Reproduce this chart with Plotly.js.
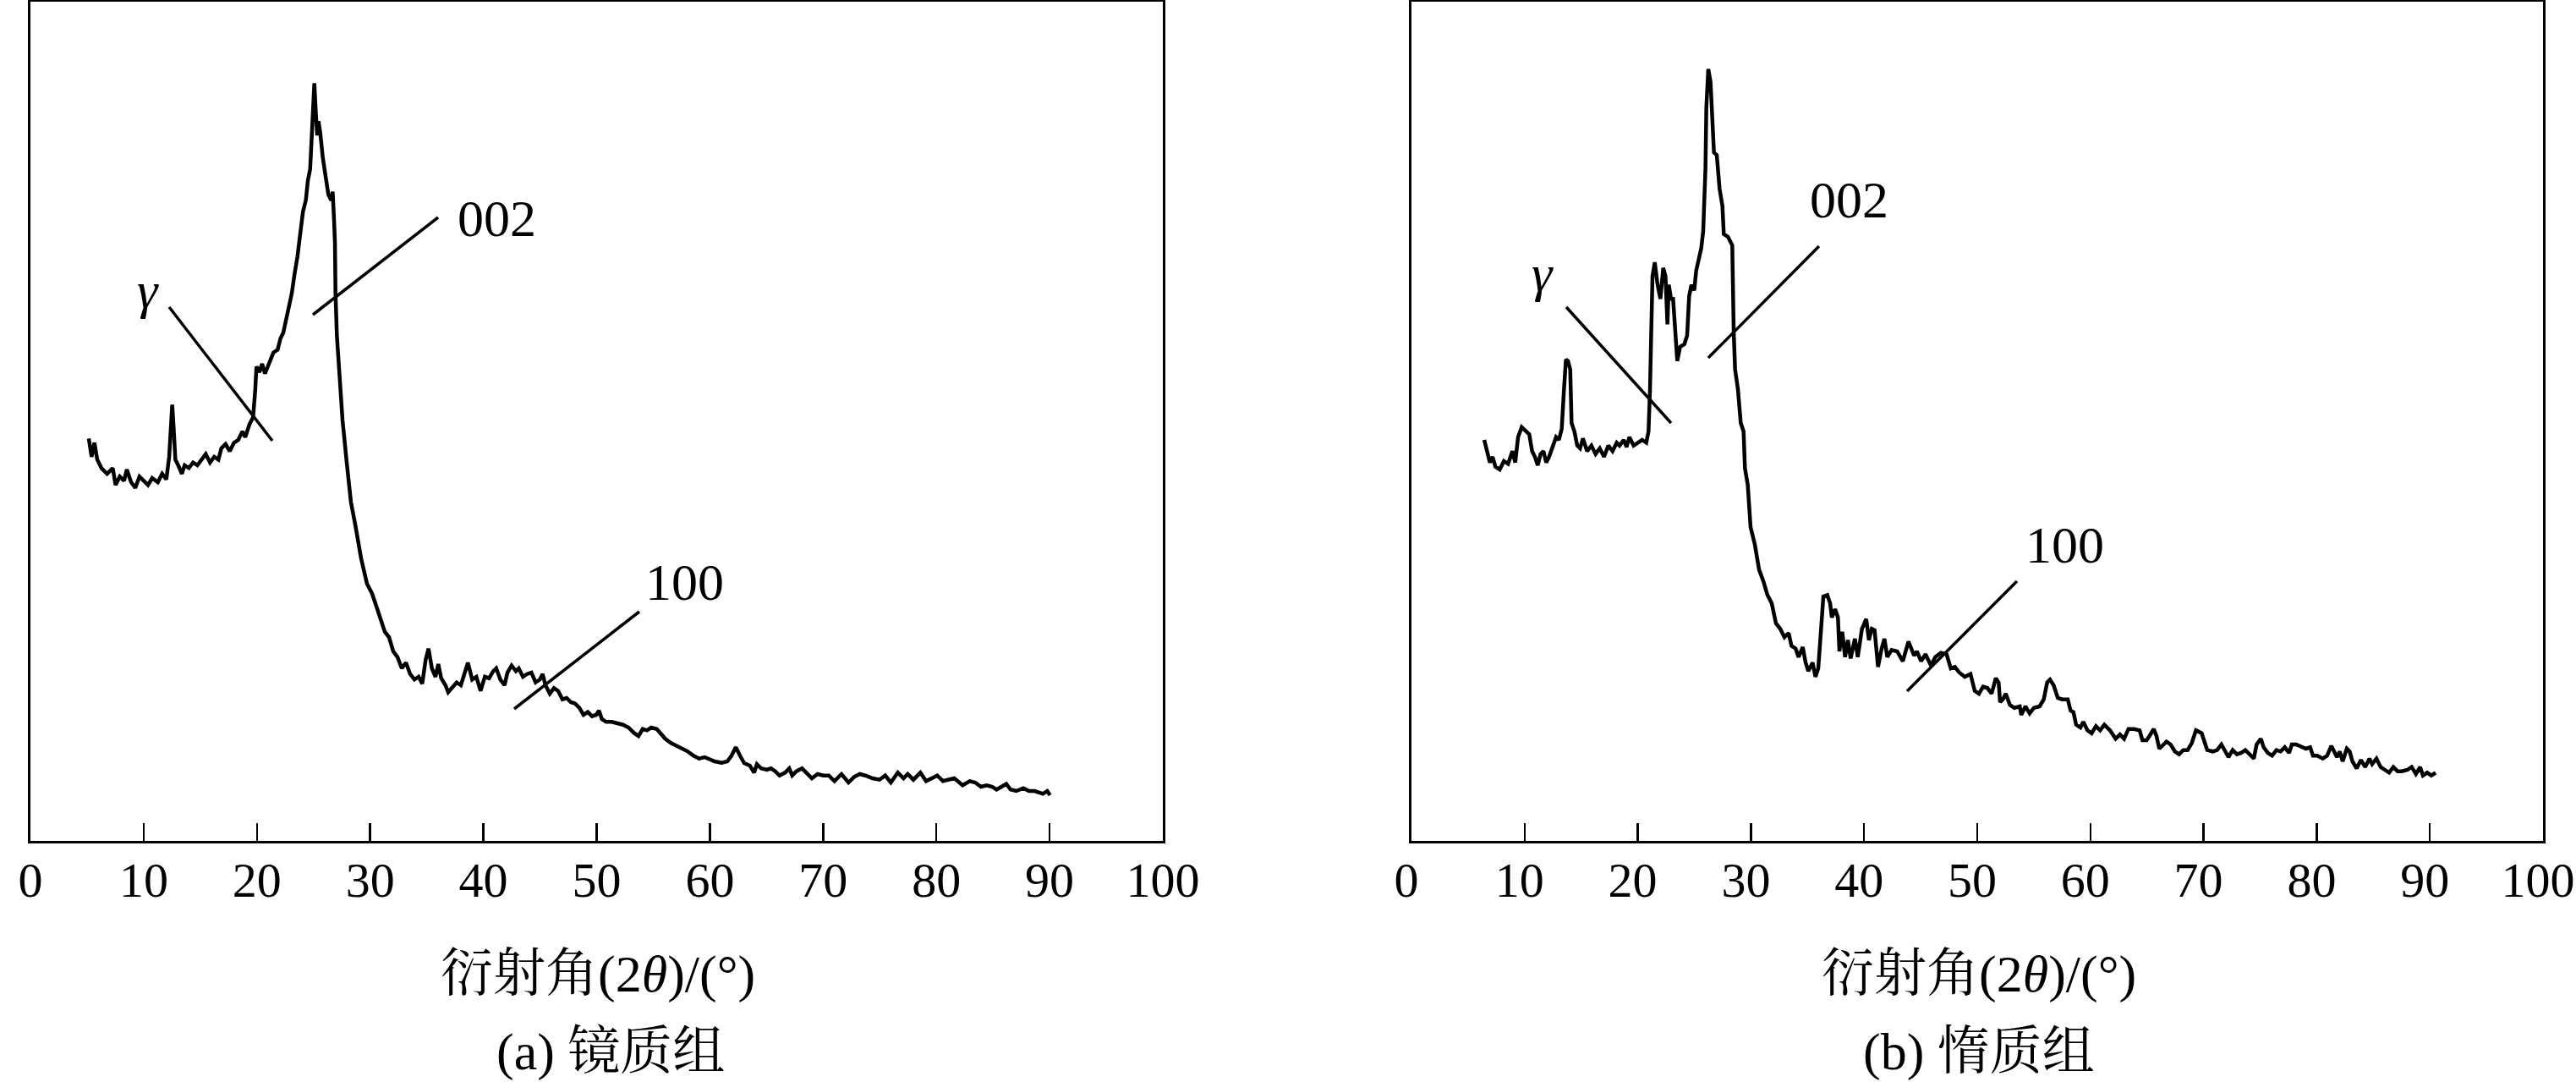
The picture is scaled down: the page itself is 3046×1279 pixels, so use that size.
<!DOCTYPE html>
<html>
<head>
<meta charset="utf-8">
<script src="https://cdn.plot.ly/plotly-3.0.1.min.js"></script>
<style>
  html, body { margin: 0; padding: 0; background: #fff; }
  #chart { width: 3046px; height: 1279px; }
</style>
</head>
<body>
<div id="chart"></div>
<script>
// ---- Data (2θ in degrees, intensity in arbitrary units) ----
const vitriniteAngle = [5.15,5.40,5.65,5.90,6.27,6.77,7.27,7.52,7.89,8.27,8.51,8.89,9.26,9.63,10.01,10.38,10.75,11.25,11.63,12.00,12.25,12.40,12.52,12.65,12.80,13.05,13.37,13.62,13.99,14.36,14.74,15.11,15.48,15.86,16.23,16.60,16.86,17.23,17.60,17.98,18.35,18.72,18.97,19.34,19.66,19.84,19.96,20.22,20.46,20.71,21.08,21.46,21.83,22.08,22.33,22.58,22.83,23.08,23.33,23.58,23.82,24.07,24.32,24.50,24.70,24.82,24.94,25.07,25.19,25.32,25.44,25.59,25.82,26.06,26.31,26.56,26.69,26.81,26.89,26.94,27.06,27.31,27.56,27.93,28.30,28.68,29.20,29.72,30.17,30.55,30.92,31.29,31.67,32.04,32.41,32.79,33.16,33.53,33.91,34.28,34.60,34.90,35.15,35.45,35.77,36.02,36.27,36.65,36.89,37.27,37.64,38.01,38.39,38.63,39.01,39.38,39.75,40.13,40.50,40.87,41.13,41.50,41.87,42.12,42.49,42.87,43.12,43.49,43.86,44.24,44.61,44.98,45.23,45.48,45.86,46.23,46.60,46.98,47.35,47.72,48.10,48.47,48.84,49.22,49.59,49.96,50.21,50.46,50.84,51.33,51.83,52.33,52.82,53.32,53.70,54.07,54.44,54.82,55.31,55.69,56.06,56.56,57.06,57.56,58.05,58.55,59.05,59.54,60.04,60.42,61.04,61.54,61.91,62.29,62.66,63.03,63.53,63.91,64.15,64.53,65.03,65.40,65.77,66.15,66.64,67.01,67.27,67.64,68.14,68.51,69.01,69.51,70.00,70.50,71.00,71.62,72.24,72.74,73.24,73.73,74.36,74.98,75.48,75.98,76.60,77.10,77.47,77.97,78.59,79.09,79.59,80.08,80.58,81.08,81.58,82.32,82.95,83.44,83.94,84.44,84.94,85.31,85.81,86.18,86.55,87.06,87.68,88.18,88.67,89.04,89.42,89.79,90.04];
const vitriniteIntensity = [475.7,454,470.7,450.7,440.7,434,440.7,420.7,430.7,425.7,439,424,417.3,430.7,425.7,420.7,429,424,434,427.3,454,497.3,515.7,487.3,450.7,444,434,444,440.7,447.3,444,450.7,457.3,447.3,454,450.7,464,469,460.7,470.7,474,484,477.3,492.3,500.7,530.7,560.7,554,564,552.3,564,577.3,580.7,594,600.7,617.3,630.7,647.3,670.7,690.7,717.3,744,757.3,780.7,794,830.7,874,895.7,864,834,850.7,837.3,807.3,787.3,764,757.3,767.3,734,707.3,647.3,597.3,547.3,497.3,447.3,400.7,374,334,304,292.3,277.3,260.7,247.3,240.7,224,217.3,204,210.7,197.3,190.7,194,185.7,214,227.3,204,194,209,192.3,184,175.7,182.3,187.3,184,200.7,210.7,190.7,194,177.3,194,192.3,200.7,204,190.7,184,199,207.3,200.7,204,194,197.3,199,187.3,190.7,197.3,184,174,180.7,177.3,167.3,169,164,162.3,157.3,149,152.3,147.3,149,154,144,140.7,140.7,139,137.3,134,127.3,124,132.3,130.7,134,132.3,125.7,120.7,115.7,112.3,109,105.7,100.7,97.3,99,95.7,94,92.3,94,100.7,110.7,100.7,92,89,80.7,90.7,85.7,84,85.7,82.3,77.3,80.7,85.7,77.3,82.3,85.7,80.7,74,79,77.3,77.3,70.7,79,69,75.7,79,77.3,74,72.3,77.3,69,80.7,74,79,72.3,80.7,70.7,74,77.3,70.7,72.3,74,65.7,70.7,69,64,65.7,64,60.7,64,67.3,60.7,59,62.3,59,59,57.3,55.7,59,54];

const inertiniteAngle = [6.43,6.68,6.93,7.17,7.42,7.80,8.17,8.54,8.92,9.17,9.42,9.74,10.04,10.41,10.66,10.91,11.16,11.41,11.66,11.91,12.16,12.53,12.78,13.03,13.28,13.48,13.65,13.83,14.03,14.15,14.40,14.65,14.90,15.15,15.52,15.90,16.27,16.64,17.02,17.39,17.77,18.14,18.39,18.76,19.01,19.26,19.63,20.01,20.38,20.75,20.95,21.08,21.20,21.30,21.50,21.75,22.00,22.25,22.45,22.62,22.74,22.94,23.12,23.29,23.49,23.74,24.12,24.36,24.54,24.74,24.99,25.16,25.36,25.61,25.78,25.98,26.06,26.23,26.43,26.61,26.73,26.98,27.23,27.48,27.60,27.97,28.35,28.48,28.60,28.85,29.10,29.35,29.47,29.72,29.97,30.34,30.72,31.09,31.46,31.84,32.21,32.59,32.96,33.33,33.58,33.95,34.21,34.58,34.83,35.07,35.45,35.70,35.95,36.20,36.40,36.75,37.00,37.15,37.44,37.69,37.82,38.07,38.32,38.57,38.81,39.19,39.44,39.81,40.19,40.43,40.68,40.93,41.23,41.55,41.80,42.05,42.43,42.92,43.42,43.92,44.17,44.42,44.67,45.04,45.42,45.91,46.29,46.79,47.29,47.66,48.03,48.41,48.90,49.40,49.78,50.15,50.52,50.90,51.27,51.64,51.89,52.02,52.27,52.52,52.89,53.27,53.76,53.89,54.26,54.63,55.01,55.51,55.88,56.18,56.43,56.75,57.12,57.50,58.00,58.25,58.50,58.74,59.12,59.37,59.74,60.11,60.49,60.86,61.23,61.73,62.23,62.61,62.98,63.36,63.85,64.35,64.60,64.97,65.22,65.60,65.84,66.09,66.47,66.72,67.09,67.47,67.84,68.21,68.59,68.96,69.33,69.83,70.08,70.33,70.83,71.20,71.58,71.95,72.20,72.57,72.95,73.32,73.69,74.07,74.44,74.69,75.06,75.31,75.69,76.06,76.44,76.81,77.18,77.56,77.80,78.18,78.55,79.05,79.42,79.67,80.04,80.54,80.92,81.29,81.54,81.79,82.04,82.29,82.66,82.91,83.16,83.53,83.91,84.28,84.66,84.90,85.28,85.65,86.02,86.40,86.77,87.14,87.52,88.02,88.39,88.77,89.14,89.39,89.76,90.13,90.51];
const inertiniteIntensity = [474,460.7,447.3,454,442.3,439,449,445.7,460.7,447.3,477.3,489,485.7,480.7,460.7,454,444,457.3,460.7,447.3,454,467.3,477.3,474,487.3,534,569,567.3,557.3,494,484,467.3,464,475.7,460.7,467.3,457.3,464,454,467.3,460.7,470.7,467.3,474,465.7,477.3,467.3,470.7,474,470.7,484,534,600.7,667.3,684,657.3,640.7,677.3,667.3,610.7,657.3,640.7,640.7,600.7,567.3,584,587.3,597.3,644,657.3,650.7,674,687.3,700.7,720.7,794,867.3,912.3,897.3,834,814,810.7,770.7,750.7,717.3,714,704,600.7,557.3,534,494,484,440.7,420.7,370.7,350.7,320.7,307.3,290.7,280.7,257.3,250.7,240.7,245.7,230.7,227.3,217.3,229,210.7,200.7,210.7,194,204,250.7,289,290.7,280.7,264,274,264,224,247.3,217.3,237.3,215.7,239,217.3,250.7,262.3,237.3,250.7,249,205.7,227.3,239,217.3,225.7,224,212.3,235.7,225.7,219,224,212.3,220.7,207.3,217.3,222.3,220.7,204,205.7,199,194,197.3,177.3,174,182.3,180.7,174,192.3,187.3,164,167.3,174,160.7,157.3,159,149,159,150.7,157.3,159,167.3,187.3,190.7,184,169,167.3,167.3,154,152.3,137.3,134,140.7,130.7,127.3,135.7,130.7,137.3,130.7,120.7,125.7,120.7,132.3,132.3,130.7,119,119,124,132.3,124,109,114,117.3,114,105.7,102.3,107.3,107.3,115.7,130.7,127.3,117.3,107.3,105.7,107.3,114,105.7,99,107.3,102.3,104,107.3,102.3,97.3,114,120.7,110.7,104,100.7,107.3,105.7,110.7,104,114,114,112.3,109,110.7,100.7,100.7,97.3,100.7,112.3,105.7,99,105.7,94,109,105.7,94,85.7,95.7,87.3,97.3,90.7,97.3,87.3,84,80.7,87.3,82.3,82.3,84,87.3,79,87.3,77.3,80.7,77.3,80.7];

const tickValues = [0,10,20,30,40,50,60,70,80,90,100];
const tickLabels = ["0","10","20","30","40","50","60","70","80","90","100"];
const xTitle = "衍射角(2<i>θ</i>)/(°)";
const panelTitles = ["(a) 镜质组", "(b) 惰质组"];

// ---- Layout ----
const W = 3046, H = 1279;
const serif = '"Liberation Serif", "Times New Roman", "Noto Serif CJK SC", "Noto Sans CJK SC", serif';
const plotTop = 2, plotBottom = 994;
const yDom = [(H - plotBottom) / H, (H - plotTop) / H];
const leftDom = [36 / W, 1375 / W];
const rightDom = [1669 / W, 3007 / W];

function xAxis(domain, anchor, shift) {
  return {
    domain: domain, anchor: anchor, range: [0, 100],
    tickmode: 'array', tickvals: tickValues, ticktext: tickLabels,
    ticks: 'inside', ticklen: 21, tickwidth: 2.5, tickcolor: '#000',
    showline: true, linecolor: '#000', linewidth: 3, mirror: true,
    showgrid: false, zeroline: false,
    tickfont: {family: serif, size: 58, color: '#000'},
    ticklabelstandoff: -7,
    ticklabelshift: shift,
    ticklabeloverflow: 'allow',
    fixedrange: true
  };
}
function yAxis(anchor) {
  return {
    domain: yDom, anchor: anchor, range: [0, 992],
    showticklabels: false, ticks: '',
    showline: true, linecolor: '#000', linewidth: 3, mirror: true,
    showgrid: false, zeroline: false, fixedrange: true
  };
}

const lineStyle = {color: '#000', width: 4.5};
const traces = [
  {x: vitriniteAngle, y: vitriniteIntensity, xaxis: 'x', yaxis: 'y', type: 'scatter', mode: 'lines', line: lineStyle, hoverinfo: 'skip'},
  {x: inertiniteAngle, y: inertiniteIntensity, xaxis: 'x2', yaxis: 'y2', type: 'scatter', mode: 'lines', line: lineStyle, hoverinfo: 'skip'}
];

const leader = {color: '#000', width: 3.5};
const shapes = [
  {type: 'line', xref: 'x', yref: 'y', x0: 12.25, y0: 631, x1: 21.36, y1: 473, line: leader},
  {type: 'line', xref: 'x', yref: 'y', x0: 24.94, y0: 622, x1: 36.0, y1: 737, line: leader},
  {type: 'line', xref: 'x', yref: 'y', x0: 42.72, y0: 156, x1: 53.77, y1: 271, line: leader},
  {type: 'line', xref: 'x2', yref: 'y2', x0: 13.68, y0: 631, x1: 22.94, y1: 494, line: leader},
  {type: 'line', xref: 'x2', yref: 'y2', x0: 26.23, y0: 571, x1: 36.02, y1: 703, line: leader},
  {type: 'line', xref: 'x2', yref: 'y2', x0: 43.80, y0: 177, x1: 53.51, y1: 307, line: leader}
];

const lblFont = {family: serif, size: 62, color: '#000'};
function lbl(xref, yref, x, y, text) {
  return {xref: xref, yref: yref, x: x, y: y, text: text, showarrow: false,
          xanchor: 'center', yanchor: 'middle', font: lblFont};
}
const annotations = [
  lbl('x', 'y', 10.38, 651, '<i>γ</i>'),
  lbl('x', 'y', 41.15, 736, '002'),
  lbl('x', 'y', 57.80, 306, '100'),
  lbl('x2', 'y2', 11.58, 671, '<i>γ</i>'),
  lbl('x2', 'y2', 38.64, 758, '002'),
  lbl('x2', 'y2', 57.70, 350, '100'),
  lbl('paper', 'paper', 707 / W, (H - 1151) / H, xTitle),
  lbl('paper', 'paper', 722 / W, (H - 1243) / H, panelTitles[0]),
  lbl('paper', 'paper', 2340 / W, (H - 1151) / H, xTitle),
  lbl('paper', 'paper', 2340 / W, (H - 1243) / H, panelTitles[1])
];

const layout = {
  width: W, height: H,
  margin: {l: 0, r: 0, t: 0, b: 0, pad: 0},
  paper_bgcolor: '#fff', plot_bgcolor: '#fff',
  showlegend: false,
  xaxis: xAxis(leftDom, 'y', 0),
  yaxis: yAxis('x'),
  xaxis2: xAxis(rightDom, 'y2', -6),
  yaxis2: yAxis('x2'),
  shapes: shapes,
  annotations: annotations
};

Plotly.newPlot('chart', traces, layout, {displayModeBar: false, staticPlot: true});
</script>
</body>
</html>
